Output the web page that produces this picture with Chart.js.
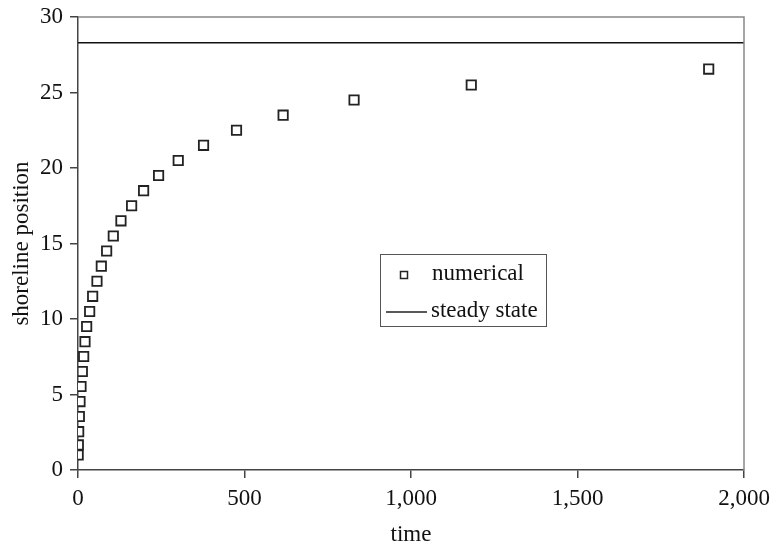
<!DOCTYPE html>
<html>
<head>
<meta charset="utf-8">
<script src="https://cdn.jsdelivr.net/npm/chart.js@4/dist/chart.umd.min.js"></script>
<style>
  html, body { margin: 0; padding: 0; background: #fff; }
  #wrap { width: 773px; height: 543px; }
</style>
</head>
<body>
<div id="wrap"><canvas id="chart"></canvas></div>
<script>
// values
const times = [0.5, 1, 2, 4, 6, 9, 13, 17, 21, 26, 35, 44, 57, 70, 86, 106, 129, 161, 197, 242, 301, 377, 476, 616, 829, 1181, 1894];
const positions = [1.0, 1.66, 2.54, 3.54, 4.53, 5.53, 6.52, 7.52, 8.5, 9.5, 10.5, 11.5, 12.5, 13.5, 14.5, 15.5, 16.5, 17.5, 18.5, 19.5, 20.5, 21.5, 22.5, 23.5, 24.5, 25.5, 26.55];
const steadyTimes = [0, 2000];
const steadyValue = 28.3;

const serif = "'Liberation Serif', 'Times New Roman', serif";

// frame on top and right + legend box inside the plot
const framePlugin = {
    id: 'frame',
    afterDraw(chart) {
        const { ctx, chartArea: a } = chart;
        ctx.save();
        ctx.strokeStyle = '#888';
        ctx.lineWidth = 1.5;
        ctx.beginPath();
        ctx.moveTo(a.left, a.top);
        ctx.lineTo(a.right, a.top);
        ctx.lineTo(a.right, a.bottom);
        ctx.stroke();

        // legend
        ctx.strokeStyle = '#555';
        ctx.lineWidth = 1;
        ctx.strokeRect(380.5, 254.5, 166, 72);
        ctx.strokeStyle = '#222';
        ctx.lineWidth = 1.5;
        ctx.strokeRect(400.5, 271.5, 7, 7);
        ctx.beginPath();
        ctx.moveTo(386, 312);
        ctx.lineTo(427, 312);
        ctx.stroke();
        ctx.fillStyle = '#111';
        ctx.font = '23px ' + serif;
        ctx.textBaseline = 'middle';
        ctx.fillText(chart.data.datasets[0].label, 432, 274);
        ctx.fillText(chart.data.datasets[1].label, 431, 311);
        ctx.restore();
    }
};

new Chart(document.getElementById('chart'), {
    type: 'scatter',
    data: {
        datasets: [{
            label: 'numerical',
            data: times.map((t, i) => ({ x: t, y: positions[i] })),
            pointStyle: 'rect',
            pointRadius: 6.6,
            pointHoverRadius: 6.6,
            borderColor: '#222',
            backgroundColor: '#fff',
            borderWidth: 1.8
        }, {
            label: 'steady state',
            type: 'line',
            data: steadyTimes.map(t => ({ x: t, y: steadyValue })),
            borderColor: '#111',
            borderWidth: 1.5,
            pointRadius: 0,
            fill: false
        }]
    },
    options: {
        responsive: true,
        maintainAspectRatio: false,
        animation: false,
        layout: { padding: { top: 17, right: 29, left: 0, bottom: 0 } },
        plugins: {
            legend: { display: false },
            tooltip: { enabled: false }
        },
        scales: {
            x: {
                type: 'linear',
                min: 0, max: 2000,
                afterFit: s => { s.height = 73; s.paddingLeft = 0; s.paddingRight = 0; },
                ticks: {
                    stepSize: 500,
                    color: '#111',
                    padding: 7,
                    font: { family: serif, size: 23 },
                    callback: v => v.toLocaleString('en-US')
                },
                grid: { drawOnChartArea: false, tickLength: 8, color: '#444', lineWidth: 1.5 },
                border: { color: '#444', width: 1.5 },
                title: {
                    display: true, text: 'time', color: '#111',
                    font: { family: serif, size: 23, lineHeight: 1 },
                    padding: { top: 0, bottom: -3 }
                }
            },
            y: {
                min: 0, max: 30,
                afterFit: s => { s.width = 78; s.paddingTop = 0; s.paddingBottom = 0; },
                ticks: {
                    stepSize: 5,
                    color: '#111',
                    padding: 7,
                    font: { family: serif, size: 23 }
                },
                grid: { drawOnChartArea: false, tickLength: 8, color: '#444', lineWidth: 1.5 },
                border: { color: '#444', width: 1.5 },
                title: {
                    display: true, text: 'shoreline position', color: '#111',
                    font: { family: serif, size: 23, lineHeight: 1 },
                    padding: { top: 10, bottom: 0 }
                }
            }
        }
    },
    plugins: [framePlugin]
});
</script>
</body>
</html>
